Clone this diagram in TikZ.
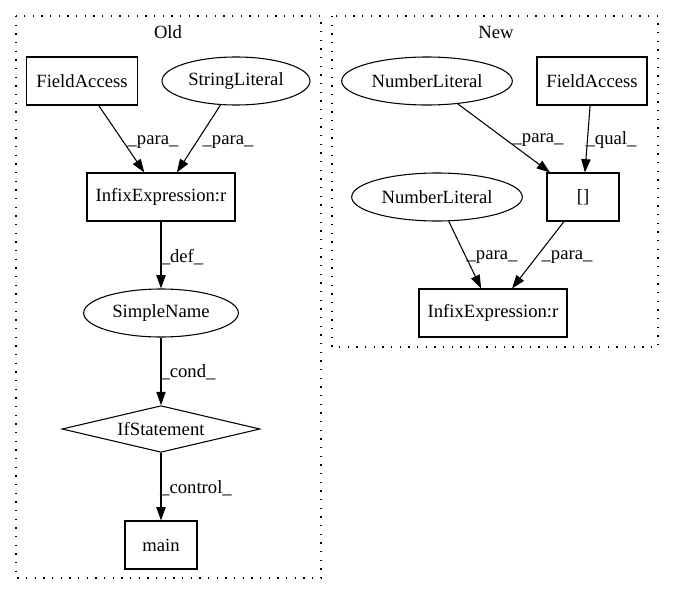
\documentclass[tikz,border=0pt]{standalone}
\usepackage{fontspec}
\setmainfont{Liberation Serif}
\usetikzlibrary{shapes.geometric,arrows.meta}
\newcommand{\gvfont}{\fontsize{14}{16}\selectfont}

\begin{document}
\begin{tikzpicture}[x=0.75pt,y=-0.75pt,
  box/.style={draw, rectangle, line width=0.8pt, minimum height=36pt, inner sep=0pt, font=\gvfont},
  oval/.style={draw, ellipse, line width=0.8pt, minimum height=36pt, inner sep=0pt, font=\gvfont},
  cond/.style={draw, diamond, line width=0.8pt, aspect=4.2, minimum width=148.5pt, minimum height=35pt, inner sep=0pt, font=\gvfont},
  lbl/.style={inner sep=0pt, font=\gvfont},
  flow/.style={-{Triangle[length=10pt,width=7pt]}, line width=0.8pt},
  cluster/.style={line width=0.8pt, dash pattern=on 1pt off 5.5pt}]
\useasboundingbox (0,0) rectangle (675,596);

% Old
\draw[cluster] (16,16) rectangle (321,578);
\node[lbl] (oldtitle) at (168,32) {Old};
\node[box, minimum width=83pt] (fa1) at (82,81) {FieldAccess};
\node[oval, minimum width=111pt] (sl) at (236,81) {StringLiteral};
\node[box, minimum width=111pt] (ix1) at (161,197) {InfixExpression:r};
\node[oval, minimum width=116pt] (sn) at (161,313) {SimpleName};
\node[cond] (ifs) at (161,429) {IfStatement};
\node[box, minimum width=54pt] (main) at (161,545) {main};

\draw[flow] (fa1) -- (ix1);
\draw[flow] (sl) -- (ix1);
\draw[flow] (ix1) -- (sn);
\draw[flow] (sn) -- (ifs);
\draw[flow] (ifs) -- (main);
\node[lbl] (p1) at (153,142) {\_para\_};
\node[lbl] (p2) at (228,142) {\_para\_};
\node[lbl] (d1) at (182,257) {\_def\_};
\node[lbl] (c1) at (188,372) {\_cond\_};
\node[lbl] (c2) at (196,488) {\_control\_};

% New
\draw[cluster] (332,16) rectangle (658,347);
\node[lbl] (newtitle) at (496,32) {New};
\node[oval, minimum width=128pt] (nl1) at (427,81) {NumberLiteral};
\node[box, minimum width=82.5pt] (fa2) at (592,81) {FieldAccess};
\node[box, minimum width=54pt] (br) at (583,197) {[]};
\node[oval, minimum width=128pt] (nl2) at (437,197) {NumberLiteral};
\node[box, minimum width=111pt] (ix2) at (493,313) {InfixExpression:r};

\draw[flow] (nl1) -- (br);
\draw[flow] (fa2) -- (br);
\draw[flow] (nl2) -- (ix2);
\draw[flow] (br) -- (ix2);
\node[lbl] (p3) at (538,140) {\_para\_};
\node[lbl] (q1) at (611,140) {\_qual\_};
\node[lbl] (p4) at (492,257) {\_para\_};
\node[lbl] (p5) at (567,257) {\_para\_};

\end{tikzpicture}
\end{document}
